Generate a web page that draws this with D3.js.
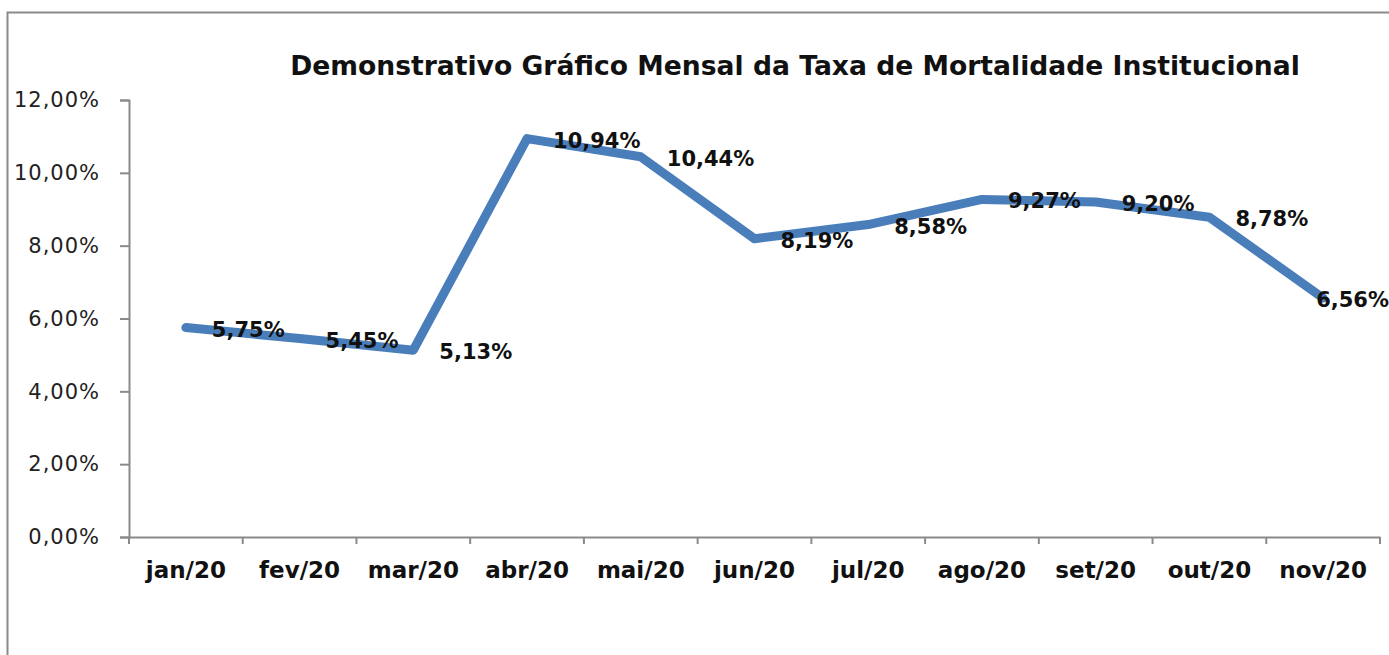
<!DOCTYPE html>
<html>
<head>
<meta charset="utf-8">
<script src="https://cdn.jsdelivr.net/npm/d3@7"></script>
<style>
  body { margin: 0; background: #fff; }
  svg { display: block; }
</style>
</head>
<body>
<script>
const months = ['jan/20', 'fev/20', 'mar/20', 'abr/20', 'mai/20', 'jun/20', 'jul/20', 'ago/20', 'set/20', 'out/20', 'nov/20']
const rates = [5.75, 5.45, 5.13, 10.94, 10.44, 8.19, 8.58, 9.27, 9.20, 8.78, 6.56]
const yTicks = [0, 2, 4, 6, 8, 10, 12]
const title = 'Demonstrativo Gráfico Mensal da Taxa de Mortalidade Institucional'

const w = 1389
const h = 655
const padLeft = 129
const padRight = 1380
const padTop = 100
const padBottom = 537

const fmt = v => v.toFixed(2).replace('.', ',') + '%'

const svg = d3.select('body')
     .append('svg')
     .attr('width', w)
     .attr('height', h)

// outer frame of the chart area
svg.append('path')
     .attr('d', `M7.5,${h} V12.5 H${w}`)
     .attr('fill', 'none')
     .attr('stroke', '#8a8a8a')
     .attr('stroke-width', 2)

svg.append('text')
     .attr('x', 795)
     .attr('y', 75)
     .attr('text-anchor', 'middle')
     .attr('font-family', 'DejaVu Sans')
     .attr('font-weight', 'bold')
     .attr('font-size', 26.6)
     .attr('fill', '#111')
     .text(title)

const xScale = d3.scaleBand()
     .domain(months)
     .range([padLeft, padRight])
const yScale = d3.scaleLinear()
     .domain([0, 12])
     .range([padBottom, padTop])

const yAxis = d3.axisLeft(yScale)
     .tickValues(yTicks)
     .tickSize(9)
     .tickPadding(20)
     .tickFormat(fmt)
const gy = svg.append('g')
     .attr('transform', 'translate(' + padLeft + ',0)')
     .call(yAxis)
gy.selectAll('text')
     .attr('font-family', 'DejaVu Sans')
     .attr('font-size', 21)
     .attr('letter-spacing', 1)
     .attr('fill', '#222')

const xAxis = d3.axisBottom(xScale)
     .tickSize(0)
     .tickPadding(25)
const gx = svg.append('g')
     .attr('transform', 'translate(0,' + padBottom + ')')
     .call(xAxis)
gx.selectAll('text')
     .attr('font-family', 'DejaVu Sans')
     .attr('font-weight', 'bold')
     .attr('font-size', 23)
     .attr('fill', '#111')
// tick marks sit between the categories
gx.selectAll('.sep')
     .data(months.concat(['end']))
     .enter()
     .append('line')
     .attr('class', 'sep')
     .attr('x1', (d, i) => padLeft + i * xScale.step())
     .attr('x2', (d, i) => padLeft + i * xScale.step())
     .attr('y1', 0)
     .attr('y2', 7)

svg.selectAll('.domain, .tick line, .sep')
     .attr('stroke', '#8a8a8a')
     .attr('stroke-width', 2)

const line = d3.line()
     .x((d, i) => xScale(months[i]) + xScale.bandwidth() / 2)
     .y(d => yScale(d))

svg.append('path')
     .datum(rates)
     .attr('d', line)
     .attr('fill', 'none')
     .attr('stroke', '#4a7ebb')
     .attr('stroke-width', 9)
     .attr('stroke-linecap', 'round')
     .attr('stroke-linejoin', 'round')

const labels = svg.selectAll('.lbl')
     .data(rates)
     .enter()
     .append('text')
     .attr('class', 'lbl')
     .attr('x', (d, i) => xScale(months[i]) + xScale.bandwidth() / 2 + 26)
     .attr('y', d => yScale(d) + 9)
     .attr('font-family', 'DejaVu Sans')
     .attr('font-weight', 'bold')
     .attr('font-size', 21)
     .attr('fill', '#111')
     .text(fmt)
// keep the last label inside the frame
labels.each(function () {
     const len = this.getComputedTextLength()
     const x = +this.getAttribute('x')
     if (x + len > w) this.setAttribute('x', w - len)
})
</script>
</body>
</html>
